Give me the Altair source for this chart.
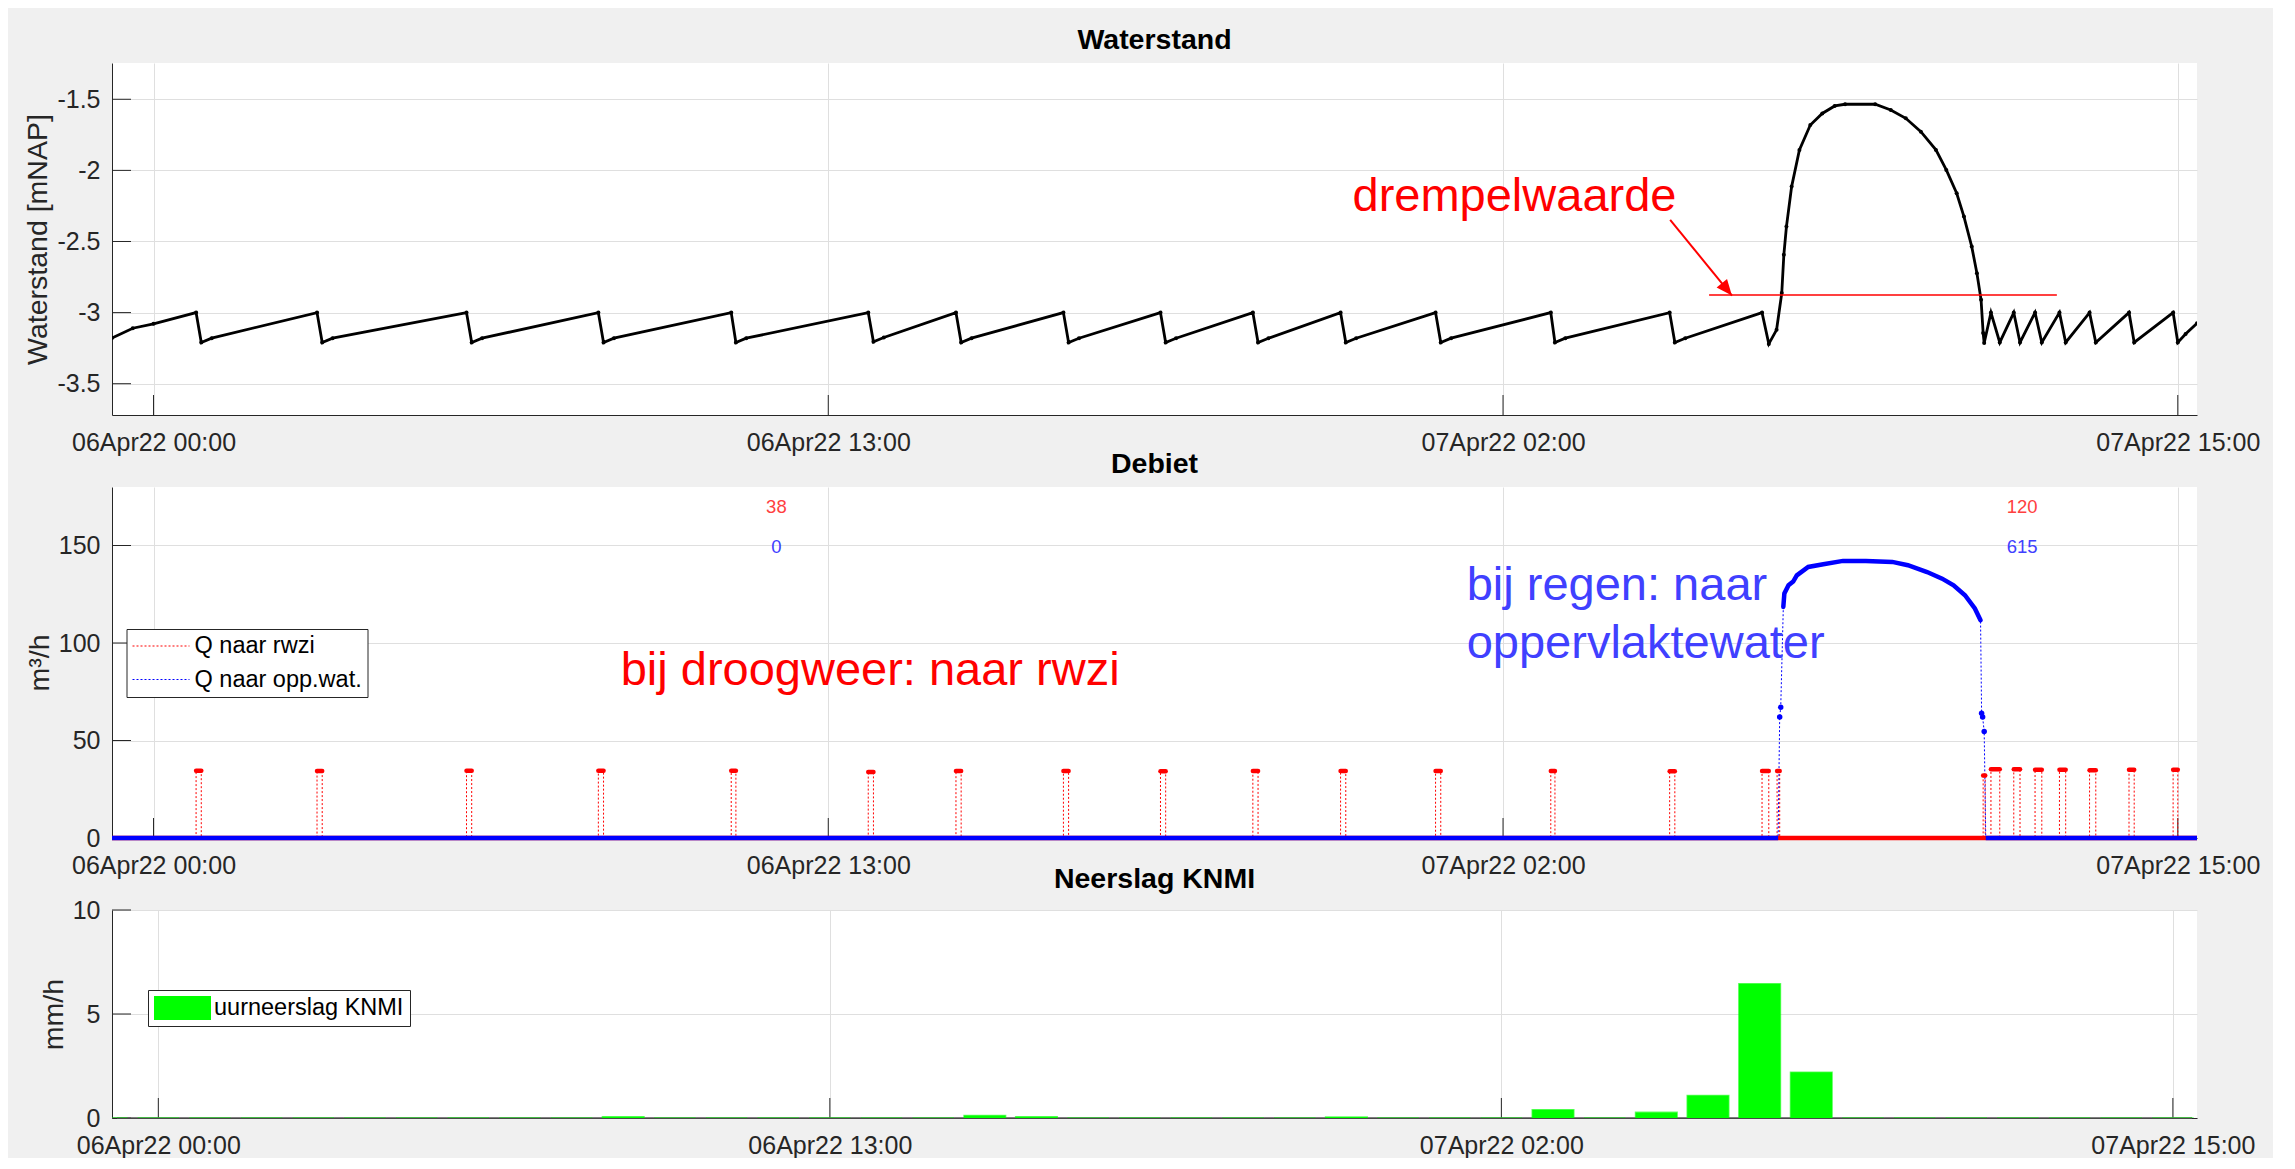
import altair as alt
import pandas as pd

FONT = "Liberation Sans"
TXT = "#262626"

# ---------------- shared x axis (hours since 06Apr22 00:00) ----------------
X_DOMAIN = [-0.80, 39.37]
x_tick_values = [0, 13, 26, 39]
x_tick_labels = ["06Apr22 00:00", "06Apr22 13:00", "07Apr22 02:00", "07Apr22 15:00"]

# ---------------- Waterstand (vertices) ----------------
ws_t = [-0.80, -0.40, 0.00, 0.82, 0.92,
        1.12, 3.15, 3.25, 3.45, 6.03, 6.13, 6.33, 8.57, 8.67,
        8.87, 11.13, 11.22, 11.42, 13.77, 13.87, 14.07, 15.46, 15.56,
        15.76, 17.53, 17.63, 17.83, 19.40, 19.50, 19.70, 21.18, 21.28,
        21.48, 22.87, 22.97, 23.17, 24.70, 24.80, 25.00, 26.92, 27.00,
        27.20, 29.21, 29.31, 29.51, 30.99, 31.12,
        31.27, 31.37, 31.41, 31.46, 31.56, 31.71, 31.92, 32.15, 32.39, 32.59,
        33.17, 33.47, 33.76, 34.05, 34.34, 34.54, 34.74, 34.88, 35.03, 35.13,
        35.21, 35.25, 35.27,
        35.40, 35.57, 35.84, 35.96, 36.25, 36.38, 36.72, 36.84, 37.30, 37.42,
        38.06, 38.16, 38.91, 39.00, 39.15, 39.37]
ws_v = [-3.179, -3.110, -3.079, -3.000, -3.210,
        -3.180, -3.000, -3.210, -3.180, -3.000, -3.210, -3.180, -3.000, -3.210,
        -3.180, -3.000, -3.210, -3.180, -3.000, -3.205, -3.175, -3.000, -3.210,
        -3.180, -3.000, -3.210, -3.180, -3.000, -3.210, -3.180, -3.000, -3.210,
        -3.180, -3.000, -3.210, -3.180, -3.000, -3.210, -3.180, -3.000, -3.210,
        -3.180, -3.000, -3.210, -3.180, -3.000, -3.220,
        -3.121, -2.863, -2.594, -2.395, -2.114, -1.856, -1.681, -1.600, -1.547, -1.535,
        -1.535, -1.575, -1.634, -1.728, -1.856, -1.997, -2.161, -2.325, -2.536, -2.723,
        -2.910, -3.144, -3.214,
        -3.000, -3.210, -3.000, -3.210, -3.000, -3.210, -3.000, -3.210, -3.000, -3.210,
        -3.000, -3.210, -3.000, -3.210, -3.150, -3.075]
ws_y_domain = [-3.72, -1.245]
ws_y_ticks = [-3.5, -3, -2.5, -2, -1.5]

thr_t1, thr_t2, thr_v = [29.97], [36.67], [-2.877]
arrow_t1, arrow_v1, arrow_t2, arrow_v2 = [29.22], [-2.348], [30.41], [-2.880]
top_text = ["drempelwaarde"]
top_text_t, top_text_v = [23.10], [-2.285]

# ---------------- Debiet ----------------
q_series = ["Q naar rwzi", "Q naar opp.wat."]
q_colors = ["#ff0000", "#0000ff"]

# pump events to rwzi: start time, stop time, flow
rwzi_up = [0.82, 3.15, 6.03, 8.57, 11.13, 13.77, 15.46, 17.53, 19.40, 21.18, 22.87,
           24.70, 26.92, 29.21, 30.99, 31.28, 35.25, 35.40, 35.84, 36.25, 36.72,
           37.30, 38.06, 38.91]
rwzi_dn = [0.92, 3.25, 6.13, 8.67, 11.22, 13.87, 15.56, 17.63, 19.50, 21.28, 22.97,
           24.80, 27.00, 29.31, 31.12, 31.33, 35.29, 35.57, 35.96, 36.38, 36.84,
           37.42, 38.16, 39.00]
rwzi_q = [34.5, 34.4, 34.5, 34.5, 34.5, 33.8, 34.4, 34.4, 34.2, 34.4, 34.4,
          34.4, 34.4, 34.2, 34.4, 34.4, 32.0, 35.3, 35.2, 35.0, 35.0,
          34.8, 35.0, 35.0]

opp_t = [-0.80, 31.30, 31.33, 31.35, 31.40, 31.42, 31.50, 31.59, 31.66, 31.88,
         32.17, 32.55, 32.99, 33.50, 33.80, 34.17, 34.46, 34.68, 34.90, 35.09,
         35.20, 35.22, 35.24, 35.27, 35.30, 39.37]
opp_q = [0, 0, 62, 67, 118.5, 125.4, 129.6, 131.5, 134.7, 139.0,
         140.4, 142.1, 142.1, 141.6, 139.9, 136.4, 133.0, 129.6, 124.5, 117.7,
         111.7, 64, 62, 54.6, 0, 0]
opp_dome_first, opp_dome_last = 4, 20      # dense part of the overflow record
opp_single = [2, 3, 21, 22, 23]            # isolated samples

opp_base_t1 = [-0.80, 35.30]
opp_base_t2 = [31.30, 39.37]

day_t = [12, 36]
day_rwzi = ["38", "120"]
day_opp = ["0", "615"]
day_rwzi_v, day_opp_v = 166.5, 146.2

mid_text = ["bij droogweer: naar rwzi", "bij regen: naar", "oppervlaktewater"]
mid_text_t = [9.0, 25.3, 25.3]
mid_text_v = [78.5, 122.0, 92.3]
mid_text_c = ["#ff0000", "#4040ff", "#4040ff"]

q_y_domain = [0, 180]
q_y_ticks = [0, 50, 100, 150]

# ---------------- Neerslag KNMI ----------------
rain_hour = [-1, 0, 1, 2, 3, 4, 5, 6, 7, 8, 9, 10, 11, 12, 13, 14, 15, 16, 17, 18, 19,
             20, 21, 22, 23, 24, 25, 26, 27, 28, 29, 30, 31, 32, 33, 34, 35, 36, 37, 38, 39]
rain_mm = [0, 0, 0, 0, 0, 0, 0, 0, 0, 0, 0.06, 0, 0, 0, 0, 0, 0, 0.12, 0.06, 0, 0,
           0, 0, 0, 0.05, 0, 0, 0, 0.40, 0, 0.27, 1.08, 6.45, 2.20, 0, 0, 0, 0, 0, 0, 0]
rain_name = "uurneerslag KNMI"
r_y_domain = [0, 10]
r_y_ticks = [0, 5, 10]

# ---------------- layout ----------------
W = 2085
H_TOP, H_MID, H_BOT = 352, 351, 208
GAP = 72
PX_PER_H = W / (X_DOMAIN[1] - X_DOMAIN[0])
BAR_PX = 0.8 * PX_PER_H

labels_js = "[" + ",".join("'%s'" % s for s in x_tick_labels) + "]"
vals_js = "[" + ",".join(str(v) for v in x_tick_values) + "]"
x_scale = alt.Scale(domain=X_DOMAIN, nice=False, zero=False)
x_axis = alt.Axis(values=x_tick_values, labelExpr=f"{labels_js}[indexof({vals_js}, datum.value)]",
                  title=None, grid=True, labelPadding=15, labelFlush=False, labelOverlap=False,
                  ticks=False)


def y_axis(ticks, title):
    return alt.Axis(values=ticks, labelExpr="'' + datum.value", title=title, grid=True,
                    labelPadding=12, titlePadding=4, ticks=False, labelOverlap=False)


def X(field="t"):
    return alt.X(f"{field}:Q", scale=x_scale, axis=x_axis)


def tick_layers(yscale, yax, ticks, height):
    xt = alt.Chart(pd.DataFrame({"t": x_tick_values})).mark_rule(color=TXT, strokeWidth=1).encode(
        x=X("t"), y=alt.value(height), y2=alt.value(height - 20))
    yt = alt.Chart(pd.DataFrame({"v": ticks})).mark_rule(color=TXT, strokeWidth=1).encode(
        y=alt.Y("v:Q", scale=yscale, axis=yax), x=alt.value(0), x2=alt.value(19))
    return [xt, yt]


def title(text, offset=9):
    return alt.TitleParams(text=text, fontSize=28.5, fontWeight="bold", font=FONT, color="black",
                           offset=offset, anchor="middle")


# ---------- top panel ----------
ws_scale = alt.Scale(domain=ws_y_domain, nice=False, zero=False)
ws_axis = y_axis(ws_y_ticks, "Waterstand [mNAP]")
ws_df = pd.DataFrame({"t": ws_t, "v": ws_v, "i": range(len(ws_t))})
Yw = alt.Y("v:Q", scale=ws_scale, axis=ws_axis)

ws_line = alt.Chart(ws_df).mark_line(color="black", strokeWidth=2.8, clip=True).encode(
    x=X(), y=Yw, order="i:Q")
ws_pts = alt.Chart(ws_df).mark_circle(color="black", size=16, opacity=1, clip=True).encode(x=X(), y=Yw)
thr = alt.Chart(pd.DataFrame({"t": thr_t1, "t2": thr_t2, "v": thr_v})).mark_rule(
    color="#ff0000", strokeWidth=1.5).encode(x=X(), x2="t2:Q", y=Yw)
arr = alt.Chart(pd.DataFrame({"t": arrow_t1, "v": arrow_v1, "t2": arrow_t2, "v2": arrow_v2})).mark_rule(
    color="#ff0000", strokeWidth=2).encode(x=X(), y=Yw, x2="t2:Q", y2="v2:Q")
arr_head = alt.Chart(pd.DataFrame({"t": arrow_t2, "v": arrow_v2})).mark_point(
    shape="M0,0L-0.42,-1L0.42,-1Z", filled=True, size=1024, angle=320.8, color="#ff0000",
    opacity=1).encode(x=X(), y=Yw)
top_txt = alt.Chart(pd.DataFrame({"t": top_text_t, "v": top_text_v, "s": top_text})).mark_text(
    align="left", baseline="alphabetic", fontSize=47, font=FONT, color="#ff0000").encode(
    x=X(), y=Yw, text="s:N")

top = alt.layer(*tick_layers(ws_scale, ws_axis, ws_y_ticks, H_TOP), ws_line, ws_pts, thr, arr,
                arr_head, top_txt).properties(width=W, height=H_TOP, title=title("Waterstand"))

# ---------- middle panel ----------
q_scale = alt.Scale(domain=q_y_domain, nice=False, zero=False)
q_axis = y_axis(q_y_ticks, "m³/h")
Yq = alt.Y("q:Q", scale=q_scale, axis=q_axis)

rows = []
i = 0
rows.append({"t": X_DOMAIN[0], "q": 0, "serie": q_series[0], "i": i}); i += 1
for u, d, q in zip(rwzi_up, rwzi_dn, rwzi_q):
    for tt, qq in [(u, 0), (u, q), (d, q), (d, 0)]:
        rows.append({"t": tt, "q": qq, "serie": q_series[0], "i": i}); i += 1
rows.append({"t": X_DOMAIN[1], "q": 0, "serie": q_series[0], "i": i}); i += 1
for tt, qq in zip(opp_t, opp_q):
    rows.append({"t": tt, "q": qq, "serie": q_series[1], "i": i}); i += 1
q_df = pd.DataFrame(rows)

q_color = alt.Color("serie:N", scale=alt.Scale(domain=q_series, range=q_colors),
                    legend=alt.Legend(title=None, orient="none", legendX=14.5, legendY=142,
                                      fillColor="white", strokeColor=TXT, padding=5,
                                      symbolType="stroke", symbolSize=3249, symbolStrokeWidth=1.2,
                                      symbolDash=[2, 2], labelFont=FONT, labelFontSize=23.5,
                                      labelColor="black", labelOffset=4, rowPadding=9.5,
                                      clipHeight=24, labelLimit=400, cornerRadius=0))
thin = alt.Chart(q_df).mark_line(strokeDash=[2, 2], strokeWidth=1, clip=True).encode(
    x=X(), y=Yq, color=q_color, order="i:Q")
red_base = alt.Chart(pd.DataFrame({"t": [X_DOMAIN[0]], "t2": [X_DOMAIN[1]], "q": [0]})).mark_rule(
    color="#ff0000", strokeWidth=4.5).encode(x=X(), x2="t2:Q", y=Yq)
red_top = alt.Chart(pd.DataFrame({"t": rwzi_up, "t2": rwzi_dn, "q": rwzi_q})).mark_rule(
    color="#ff0000", strokeWidth=4.5, strokeCap="round").encode(x=X(), x2="t2:Q", y=Yq)
blue_base = alt.Chart(pd.DataFrame({"t": opp_base_t1, "t2": opp_base_t2, "q": [0, 0]})).mark_rule(
    color="#0000ff", strokeWidth=4.5).encode(x=X(), x2="t2:Q", y=Yq)
dome_df = pd.DataFrame({"t": opp_t[opp_dome_first:opp_dome_last + 1],
                        "q": opp_q[opp_dome_first:opp_dome_last + 1]})
blue_dome = alt.Chart(dome_df).mark_line(color="#0000ff", strokeWidth=4.5, strokeCap="round").encode(
    x=X(), y=Yq)
blue_pts = alt.Chart(pd.DataFrame({"t": [opp_t[k] for k in opp_single],
                                   "q": [opp_q[k] for k in opp_single]})).mark_circle(
    color="#0000ff", size=30, opacity=1).encode(x=X(), y=Yq)
mid_txt = alt.Chart(pd.DataFrame({"t": mid_text_t, "q": mid_text_v, "s": mid_text, "c": mid_text_c})).mark_text(
    align="left", baseline="alphabetic", fontSize=47, font=FONT).encode(
    x=X(), y=Yq, text="s:N", color=alt.Color("c:N", scale=None))
day_df = pd.DataFrame({"t": day_t * 2, "q": [day_rwzi_v] * 2 + [day_opp_v] * 2,
                       "s": day_rwzi + day_opp, "c": ["#ff4040"] * 2 + ["#4040ff"] * 2})
day_txt = alt.Chart(day_df).mark_text(align="center", baseline="alphabetic", fontSize=18.5, font=FONT).encode(
    x=X(), y=Yq, text="s:N", color=alt.Color("c:N", scale=None))

mid = alt.layer(*tick_layers(q_scale, q_axis, q_y_ticks, H_MID), thin, red_base, red_top, blue_base,
                blue_dome, blue_pts, mid_txt, day_txt).properties(width=W, height=H_MID,
                                                                  title=title("Debiet"))

# ---------- bottom panel ----------
r_scale = alt.Scale(domain=r_y_domain, nice=False, zero=False)
r_axis = y_axis(r_y_ticks, "mm/h")
Yr = alt.Y("mm:Q", scale=r_scale, axis=r_axis)
rain_df = pd.DataFrame({"t": rain_hour, "mm": rain_mm, "serie": [rain_name] * len(rain_hour)})
r_base = alt.Chart(pd.DataFrame({"t": [X_DOMAIN[0]], "t2": [X_DOMAIN[1]], "mm": [0]})).mark_rule(
    color="#555555", strokeWidth=1.5).encode(x=X(), x2="t2:Q", y=Yr)
bars = alt.Chart(rain_df).mark_bar(size=BAR_PX, stroke="#00ff00", strokeWidth=1.6, strokeOpacity=0.6,
                                   clip=True).encode(
    x=X(), y=Yr,
    fill=alt.Fill("serie:N", scale=alt.Scale(domain=[rain_name], range=["#00ff00"]),
                  legend=alt.Legend(title=None, orient="none", legendX=36, legendY=80,
                                    fillColor="white", strokeColor=TXT, padding=6,
                                    symbolType="M-1,-0.42H1V0.42H-1Z", symbolSize=3249,
                                    symbolStrokeWidth=0, symbolOpacity=1, labelFont=FONT,
                                    labelFontSize=23.5, labelColor="black", labelOffset=3,
                                    clipHeight=24, labelLimit=400, cornerRadius=0)))
bot = alt.layer(*tick_layers(r_scale, r_axis, r_y_ticks, H_BOT), r_base, bars).properties(
    width=W, height=H_BOT, title=title("Neerslag KNMI", offset=5))

chart = alt.vconcat(top, mid, bot, spacing=GAP, bounds="flush").properties(
    background="#f0f0f0", padding={"left": 15, "top": 17, "right": 13, "bottom": 0}
).configure_view(stroke=None, fill="white").configure_axis(
    labelFont=FONT, titleFont=FONT, labelFontSize=25, titleFontSize=28.5, titleFontWeight="normal",
    labelColor=TXT, titleColor=TXT, domainColor=TXT, domainWidth=1, gridColor="#dfdfdf", gridWidth=1
).resolve_scale(color="independent", fill="independent")

chart.save("out.html", embed_options={"renderer": "svg", "actions": False})
